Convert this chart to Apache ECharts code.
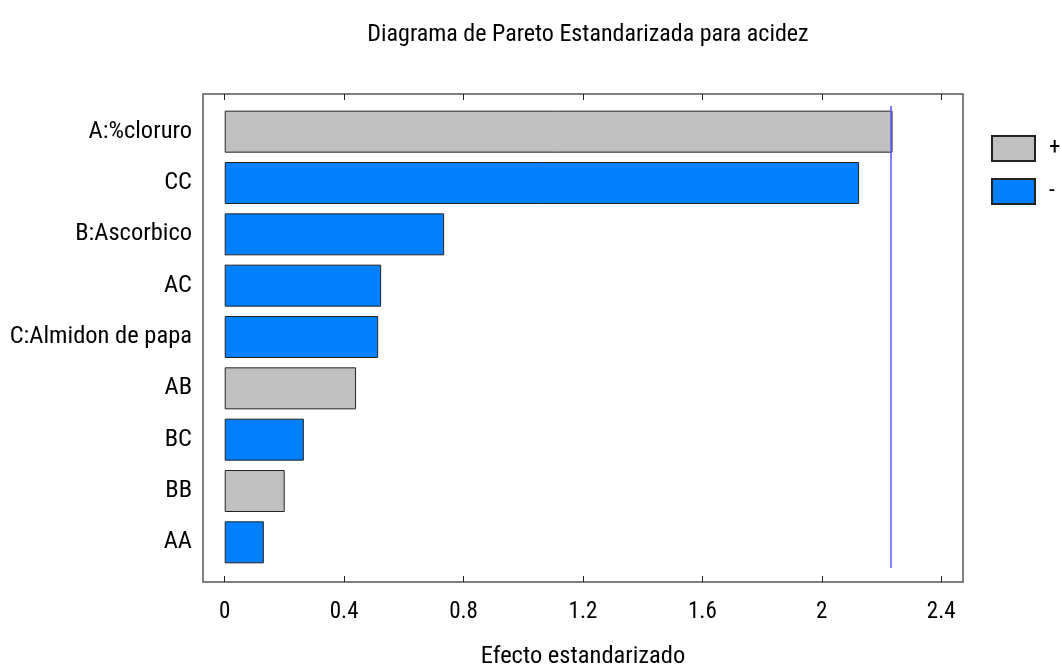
<!DOCTYPE html>
<html>
<head>
<meta charset="utf-8">
<script src="https://cdn.jsdelivr.net/npm/echarts@6/dist/echarts.min.js"></script>
<style>html,body{margin:0;padding:0;background:#fff;}#c{width:1062px;height:669px;}</style>
</head>
<body>
<div id="c"></div>
<script>
const categories = ['A:%cloruro', 'CC', 'B:Ascorbico', 'AC', 'C:Almidon de papa', 'AB', 'BC', 'BB', 'AA'];
const effects = [2.237, 2.125, 0.735, 0.524, 0.514, 0.44, 0.265, 0.201, 0.131];
const signs = ['+', '-', '-', '-', '-', '+', '-', '+', '-'];
const tickValues = [0, 0.4, 0.8, 1.2, 1.6, 2, 2.4];
const criticalValue = 2.228;

const FONT = 'Roboto, "Liberation Sans", sans-serif';
const STRETCH = 'condensed';   // rendered as CSS font-stretch inside the canvas font string
const plusData = effects.map((v, i) => signs[i] === '+' ? v : '-');
const minusData = effects.map((v, i) => signs[i] === '-' ? v : '-');
const xMin = -0.0727, xMax = 2.473;

const txt = (size) => ({ fontFamily: FONT, fontWeight: STRETCH, fontSize: size, color: '#000' });

const chart = echarts.init(document.getElementById('c'));
chart.setOption({
  animation: false,
  backgroundColor: '#fff',
  title: {
    text: 'Diagrama de Pareto Estandarizada para acidez',
    left: 583, top: 18, textAlign: 'center',
    textStyle: txt(24)
  },
  legend: {
    orient: 'vertical', left: 991, top: 135, padding: 0,
    itemWidth: 43, itemHeight: 25, itemGap: 16,
    icon: 'rect',
    data: ['+', '-'],
    textStyle: Object.assign(txt(23), { padding: [0, 0, 0, 9] })
  },
  grid: [
    { left: 203, right: 99, top: 94, bottom: 87, show: true, borderColor: '#555', borderWidth: 1.5,
      containLabel: false, outerBoundsMode: 'none' },
    { left: 203, right: 99, top: 106, bottom: 101, containLabel: false, outerBoundsMode: 'none' }
  ],
  xAxis: [
    {
      type: 'value', gridIndex: 0, min: xMin, max: xMax,
      name: 'Efecto estandarizado', nameLocation: 'middle', nameGap: 62,
      nameTextStyle: txt(24.5),
      axisLine: { show: false },
      axisTick: { show: true, inside: true, length: 6, lineStyle: { color: '#222' }, customValues: tickValues },
      axisLabel: Object.assign({ show: true, customValues: tickValues, margin: 19,
                   formatter: v => String(+v.toFixed(1)) }, txt(23)),
      splitLine: { show: false }
    },
    {
      type: 'value', gridIndex: 0, min: xMin, max: xMax, position: 'top',
      axisLine: { show: false },
      axisTick: { show: true, inside: true, length: 6, lineStyle: { color: '#222' }, customValues: tickValues },
      axisLabel: { show: false },
      splitLine: { show: false }
    },
    {
      type: 'value', gridIndex: 1, min: xMin, max: xMax, show: false, splitLine: { show: false }
    }
  ],
  yAxis: [
    { type: 'value', gridIndex: 0, show: false, splitLine: { show: false } },
    {
      type: 'category', gridIndex: 1, inverse: true, data: categories,
      axisLine: { show: false }, axisTick: { show: false },
      axisLabel: Object.assign({ margin: 11 }, txt(24.5)),
      splitLine: { show: false }
    }
  ],
  series: [
    {
      name: '+', type: 'bar', xAxisIndex: 2, yAxisIndex: 1, stack: 'e',
      data: plusData, barWidth: 42,
      itemStyle: { color: '#c0c0c0', borderColor: '#222', borderWidth: 1 }
    },
    {
      name: '-', type: 'bar', xAxisIndex: 2, yAxisIndex: 1, stack: 'e',
      data: minusData, barWidth: 42,
      itemStyle: { color: '#0080ff', borderColor: '#222', borderWidth: 1 },
      markLine: {
        silent: true, symbol: 'none', label: { show: false },
        lineStyle: { color: '#5555ff', width: 1.5, type: 'solid' },
        data: [{ xAxis: criticalValue }]
      }
    }
  ]
});
</script>
</body>
</html>
